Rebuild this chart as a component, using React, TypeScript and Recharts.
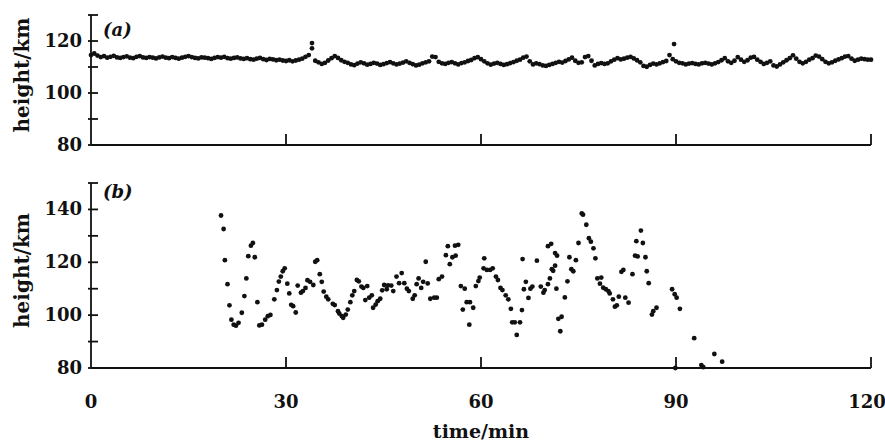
import { ScatterChart, Scatter, XAxis, YAxis } from 'recharts';

// panel (a): sampled every half minute from 0 to 120 min
const topStep = 0.5;
const topHeights = [
  114.6, 115.2, 114.4, 113.8, 114.2, 113.6, 113.9, 114.3, 113.7, 113.5,
  113.8, 114.1, 113.6, 113.4, 113.9, 114.2, 113.7, 113.5, 113.8, 113.6,
  113.3, 113.7, 114.0, 113.6, 113.4, 113.8, 113.5, 113.2, 113.6, 113.9,
  114.2, 113.8, 113.5, 113.3, 113.7, 113.6, 113.4, 113.1, 113.5, 113.8,
  113.6, 113.9, 113.4, 113.2, 113.5, 113.7, 113.3, 113.1, 113.4, 113.0,
  112.8, 113.2, 113.5, 113.0, 112.7, 113.1, 112.9, 112.6, 112.8, 112.5,
  112.3, 112.6, 112.2, 112.5, 112.8, 113.2, 113.9, 114.6, 117.2, 112.4,
  111.8, 111.2, 111.6, 112.5, 113.4, 114.2, 113.5, 112.6, 112.0, 111.6,
  111.0, 110.7, 111.3, 111.8, 111.4, 110.9, 111.2, 111.6, 111.3, 110.8,
  111.1, 111.5, 111.9, 111.4, 111.0, 111.3, 111.7, 112.2, 111.6, 111.1,
  110.6, 110.9, 111.4, 111.8, 112.2, 114.0, 113.8, 112.0, 111.4, 111.2,
  111.6, 111.9, 111.4, 111.0, 111.5, 111.8, 112.3, 112.7, 113.4, 113.8,
  113.0, 112.2, 111.4, 110.9, 111.3, 111.6, 111.2, 110.8, 111.1, 111.5,
  111.9, 112.4, 112.8, 113.6, 114.0, 112.2, 111.0, 111.4, 111.1, 110.6,
  110.4, 110.8, 111.2, 111.6, 112.0, 111.7, 112.3, 112.9, 113.6, 112.4,
  111.6, 111.8, 113.8, 114.2, 112.4, 110.6, 111.2, 111.5, 111.2, 111.4,
  112.2, 112.8, 113.4, 112.9, 113.2, 113.6, 113.9, 113.3, 112.6, 111.8,
  110.4, 110.1, 110.8, 111.3, 111.0, 111.4, 111.9, 112.3, 114.6, 113.0,
  112.2, 111.6, 111.4, 111.0, 111.3, 111.5, 111.2, 111.0, 111.4, 111.6,
  111.3, 111.0, 111.4, 111.9, 112.6, 113.4, 112.2, 111.6, 112.4, 113.8,
  112.8, 112.0, 112.6, 113.6, 113.9, 112.8, 112.0, 111.2, 111.6, 112.2,
  110.6, 110.2, 111.0, 111.8, 112.6, 113.4, 114.5, 113.2, 112.0, 111.4,
  112.0, 112.8, 113.4, 114.4, 114.0, 113.0, 112.0, 111.4, 111.8, 112.4,
  112.9, 113.4, 114.0, 114.2, 113.2, 112.4, 112.8, 113.2, 113.0, 112.8,
  112.8,
];
const topSpikeTimes = [34.0, 89.7];
const topSpikeHeights = [119.2, 118.8];

// panel (b)
const bottomTimes = [
  20.0, 20.4, 20.6, 21.0, 21.3, 21.6, 21.95, 22.3, 22.7, 23.2,
  23.6, 23.9, 24.2, 24.6, 24.9, 25.2, 25.6, 25.9, 26.3, 26.8,
  27.2, 27.6, 28.2, 28.6, 28.9, 29.2, 29.5, 29.8, 30.2, 30.5,
  30.8, 31.1, 31.5, 31.8, 32.3, 32.6, 33.0, 33.3, 33.7, 34.2,
  34.5, 34.8, 35.2, 35.5, 35.8, 36.2, 36.5, 37.2, 37.5, 38.0,
  38.2, 38.6, 38.8, 39.2, 39.5, 39.9, 40.2, 40.5, 40.9, 41.2,
  41.6, 41.9, 42.2, 42.5, 42.8, 43.2, 43.4, 43.8, 44.1, 44.5,
  44.8, 45.1, 45.5, 45.7, 46.2, 46.5, 47.0, 47.4, 47.8, 48.2,
  48.6, 48.9, 49.5, 49.8, 50.1, 50.4, 50.8, 51.1, 51.5, 51.8,
  52.2, 52.8, 53.2, 53.5, 54.0, 54.6, 54.9, 55.2, 55.6, 56.0,
  56.1, 56.5, 56.9, 57.2, 57.5, 57.8, 58.2, 58.3, 58.8, 59.2,
  59.6, 59.8, 60.4, 60.5, 60.9, 61.4, 61.8, 62.3, 62.6, 63.0,
  63.3, 63.8, 64.2, 64.6, 64.8, 65.2, 65.5, 66.0, 66.3, 66.4,
  66.6, 66.9, 67.3, 67.6, 67.9, 68.6, 69.2, 69.6, 69.8, 70.3,
  70.3, 70.6, 70.8, 70.9, 71.1, 71.4, 71.4, 71.6, 71.7, 71.9,
  72.2, 72.4, 72.9, 73.3, 73.6, 73.9, 74.2, 74.6, 75.0, 75.5,
  75.7, 76.2, 76.6, 76.9, 77.3, 77.6, 77.9, 78.3, 78.5, 78.8,
  79.2, 79.6, 79.8, 80.3, 80.6, 80.9, 81.2, 81.6, 81.9, 82.2,
  82.7, 83.3, 83.7, 83.9, 84.1, 84.6, 84.9, 85.3, 85.5, 85.8,
  86.3, 86.5, 87.0, 89.4, 89.8, 89.9, 90.1, 90.6, 92.8, 93.9,
  94.2, 95.9, 97.1,
];
const bottomHeights = [
  137.7, 132.6, 120.8, 111.7, 103.7, 98.3, 96.4, 96.0, 97.1, 100.9,
  107.2, 113.9, 122.3, 126.3, 127.3, 121.9, 104.9, 96.1, 96.4, 98.3,
  99.6, 100.1, 106.0, 109.5, 112.7, 114.6, 116.6, 117.7, 111.9, 108.2,
  103.9, 103.4, 101.0, 111.2, 108.5, 109.1, 110.3, 113.2, 112.6, 111.4,
  120.2, 120.8, 115.5, 112.6, 108.9, 107.0, 106.0, 104.3, 103.8, 101.5,
  100.6, 99.6, 99.0, 100.2, 102.1, 104.9, 107.5, 109.1, 113.3, 112.8,
  110.8, 110.3, 105.7, 111.0, 106.6, 107.5, 102.8, 104.0, 105.3, 106.2,
  109.4, 111.4, 109.8, 111.3, 111.2, 109.1, 114.6, 112.1, 115.9, 112.1,
  110.0, 109.1, 106.2, 107.5, 111.7, 113.9, 110.3, 112.6, 120.2, 112.0,
  106.2, 106.6, 106.6, 113.6, 114.6, 122.7, 126.1, 119.3, 121.9, 126.3,
  122.5, 126.6, 111.0, 102.1, 110.0, 104.9, 96.4, 104.9, 102.8, 111.0,
  112.9, 114.2, 117.7, 121.5, 117.1, 117.1, 117.7, 114.6, 113.3, 110.3,
  109.5, 107.5, 106.0, 102.4, 97.3, 97.3, 92.5, 97.3, 101.9, 121.2,
  109.8, 112.6, 106.5, 110.0, 110.8, 120.6, 110.8, 108.5, 109.5, 111.7,
  126.1, 113.9, 127.0, 117.4, 116.8, 123.5, 118.7, 110.0, 122.5, 98.6,
  93.9, 99.4, 106.7, 112.8, 121.9, 117.4, 116.6, 120.8, 127.3, 138.5,
  138.0, 134.2, 129.1, 127.8, 125.3, 121.5, 113.9, 111.9, 114.2, 110.4,
  109.8, 109.1, 108.2, 106.0, 103.2, 103.7, 107.0, 116.4, 117.1, 106.6,
  104.7, 115.5, 122.5, 128.0, 122.2, 132.0, 127.3, 121.9, 116.6, 112.1,
  100.2, 101.5, 102.8, 109.8, 107.9, 80.0, 106.6, 102.4, 91.3, 81.1,
  80.3, 85.3, 82.4,
];

const timeTicks = [0, 30, 60, 90, 120];
const topHeightTicks = [80, 90, 100, 110, 120, 130];
const bottomHeightTicks = [80, 90, 100, 110, 120, 130, 140, 150];
const labelledHeights = [80, 100, 120, 140];

const topData = [
  ...topHeights.map((h, i) => ({ t: i * topStep, h })),
  ...topSpikeTimes.map((t, i) => ({ t, h: topSpikeHeights[i] })),
];
const bottomData = bottomTimes.map((t, i) => ({ t, h: bottomHeights[i] }));

const FONT = '"DejaVu Serif", serif';
const INK = '#111';

const Dot = (props: any) => <circle cx={props.cx} cy={props.cy} r={2.4} fill={INK} />;

const XTick = ({ x, y, payload, showLabel }: any) => (
  <g>
    {payload.value !== 0 && (
      <line x1={x} x2={x} y1={y} y2={y - 11} stroke={INK} strokeWidth={1.8} />
    )}
    {showLabel && (
      <text
        x={payload.value === 120 ? x - 4 : x}
        y={y + 40}
        textAnchor="middle"
        fontFamily={FONT}
        fontWeight="bold"
        fontSize={18}
        fill={INK}
      >
        {payload.value}
      </text>
    )}
  </g>
);

const YTick = ({ x, y, payload }: any) => (
  <g>
    <line x1={x - 3} x2={x + 7} y1={y} y2={y} stroke={INK} strokeWidth={1.8} />
    {labelledHeights.includes(payload.value) && (
      <text x={x - 9} y={y} dy={6} textAnchor="end" fontFamily={FONT} fontWeight="bold" fontSize={18} fill={INK}>
        {payload.value}
      </text>
    )}
  </g>
);

// vertical axis title, nudged a little above the axis centre like the original
const HeightTitle = ({ viewBox }: any) => {
  const cx = 22;
  const cy = viewBox.y + viewBox.height / 2 - 5;
  return (
    <text
      x={cx}
      y={cy}
      transform={`rotate(-90, ${cx}, ${cy})`}
      textAnchor="middle"
      dominantBaseline="central"
      fontFamily={FONT}
      fontWeight="bold"
      fontSize={20}
      fill={INK}
    >
      height/km
    </text>
  );
};

const panelTag = (top: number): React.CSSProperties => ({
  position: 'absolute',
  left: 103,
  top,
  fontFamily: FONT,
  fontStyle: 'italic',
  fontWeight: 'bold',
  fontSize: 18,
  color: INK,
  lineHeight: 1,
});

export default function App() {
  return (
    <div style={{ position: 'absolute', left: 0, top: 0, width: 885, height: 443, background: '#fff' }}>
      <div style={{ position: 'absolute', left: 0, top: 0 }}>
        <ScatterChart width={885} height={160} margin={{ top: 15, right: 14, bottom: 0, left: 0 }}>
          <XAxis
            type="number"
            dataKey="t"
            domain={[0, 120]}
            ticks={timeTicks}
            interval={0}
            height={15}
            tickSize={0}
            tickMargin={0}
            axisLine={{ stroke: INK, strokeWidth: 1.8 }}
            tick={(p: any) => <XTick {...p} showLabel={false} />}
          />
          <YAxis
            type="number"
            dataKey="h"
            domain={[80, 130]}
            ticks={topHeightTicks}
            interval={0}
            width={91}
            tickSize={0}
            tickMargin={0}
            axisLine={{ stroke: INK, strokeWidth: 1.8 }}
            tick={(p: any) => <YTick {...p} />}
            label={{ content: HeightTitle }}
          />
          <Scatter data={topData} shape={Dot} isAnimationActive={false} />
        </ScatterChart>
      </div>
      <div style={{ position: 'absolute', left: 0, top: 160 }}>
        <ScatterChart width={885} height={283} margin={{ top: 23, right: 14, bottom: 0, left: 0 }}>
          <XAxis
            type="number"
            dataKey="t"
            domain={[0, 120]}
            ticks={timeTicks}
            interval={0}
            height={75}
            tickSize={0}
            tickMargin={0}
            axisLine={{ stroke: INK, strokeWidth: 1.8 }}
            tick={(p: any) => <XTick {...p} showLabel />}
            label={{
              value: 'time/min',
              position: 'insideBottom',
              offset: 5,
              style: { fontFamily: FONT, fontWeight: 'bold', fontSize: 19, fill: INK },
            }}
          />
          <YAxis
            type="number"
            dataKey="h"
            domain={[80, 150]}
            ticks={bottomHeightTicks}
            interval={0}
            width={91}
            tickSize={0}
            tickMargin={0}
            axisLine={{ stroke: INK, strokeWidth: 1.8 }}
            tick={(p: any) => <YTick {...p} />}
            label={{ content: HeightTitle }}
          />
          <Scatter data={bottomData} shape={Dot} isAnimationActive={false} />
        </ScatterChart>
      </div>
      <span style={panelTag(21)}>(a)</span>
      <span style={panelTag(183)}>(b)</span>
    </div>
  );
}
